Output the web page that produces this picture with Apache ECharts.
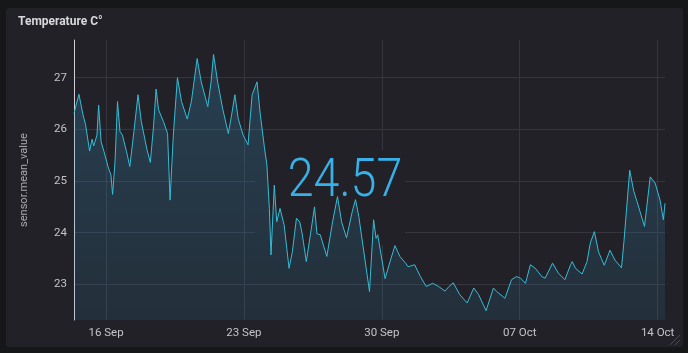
<!DOCTYPE html>
<html><head><meta charset="utf-8">
<script src="https://cdn.jsdelivr.net/npm/echarts@6/dist/echarts.min.js"></script>
<style>html,body{margin:0;padding:0;background:#161719;}#c{width:688px;height:353px;}</style>
</head><body><div id="c"></div>
<script>
const YEAR = 2019;
const title = 'Temperature C°';
const yName = 'sensor.mean_value';
const xTickLabels = ['16 Sep', '23 Sep', '30 Sep', '07 Oct', '14 Oct'];
const times = [
'09-14 09:00','09-14 15:00','09-14 20:00','09-14 23:00','09-15 04:00','09-15 07:00','09-15 09:00','09-15 13:00','09-15 15:00','09-15 18:00',
'09-15 21:00','09-16 03:00','09-16 06:00','09-16 08:00','09-16 11:00','09-16 14:00','09-16 17:00','09-16 20:00','09-17 01:00','09-17 05:00',
'09-17 10:00','09-17 15:00','09-17 19:00','09-18 00:00','09-18 02:00','09-18 06:00','09-18 10:00','09-18 13:00','09-18 16:00','09-18 22:00',
'09-19 03:00','09-19 06:00','09-19 10:00','09-19 15:00','09-19 20:00','09-20 03:00','09-20 08:00','09-20 15:00','09-20 20:00','09-21 04:00',
'09-21 08:00','09-21 11:00','09-21 16:00','09-21 22:00','09-22 05:00','09-22 09:00','09-22 13:00','09-22 17:00','09-22 23:00','09-23 05:00',
'09-23 10:00','09-23 16:00','09-23 20:00','09-24 01:00','09-24 04:00','09-24 07:00','09-24 09:00','09-24 13:00','09-24 16:00','09-24 20:00',
'09-25 01:00','09-25 07:00','09-25 11:00','09-25 16:00','09-25 20:00','09-25 23:00','09-26 04:00','09-26 09:00','09-26 14:00','09-26 17:00',
'09-26 21:00','09-27 05:00','09-27 12:00','09-27 18:00','09-27 23:00','09-28 05:00','09-28 12:00','09-28 16:00','09-28 20:00','09-29 09:00',
'09-29 14:00','09-29 17:00','09-29 19:00','09-30 04:00','09-30 10:00','09-30 16:00','09-30 22:00','10-01 05:00','10-01 08:00','10-01 16:00',
'10-01 23:00','10-02 06:00','10-02 14:00','10-02 21:00','10-03 05:00','10-03 10:00','10-03 15:00','10-03 23:00','10-04 08:00','10-04 16:00',
'10-04 22:00','10-05 07:00','10-05 16:00','10-05 20:00','10-06 06:00','10-06 14:00','10-06 20:00','10-07 01:00','10-07 07:00','10-07 13:00',
'10-07 19:00','10-08 03:00','10-08 07:00','10-08 16:00','10-08 23:00','10-09 07:00','10-09 14:00','10-09 16:00','10-09 20:00','10-10 04:00',
'10-10 10:00','10-10 14:00','10-10 19:00','10-11 00:00','10-11 07:00','10-11 14:00','10-11 20:00','10-12 04:00','10-12 07:00','10-12 14:00',
'10-12 19:00','10-12 23:00','10-13 08:00','10-13 15:00','10-13 21:00','10-14 03:00','10-14 07:00','10-14 09:00'
];
const values = [
26.31,26.68,26.28,26.10,25.58,25.81,25.68,25.89,26.47,25.76,
25.60,25.25,25.12,24.74,25.38,26.54,25.96,25.89,25.57,25.28,
25.96,26.67,26.15,25.76,25.60,25.36,26.08,26.78,26.38,26.15,
25.92,24.63,25.89,27.00,26.54,26.20,26.54,27.37,26.92,26.44,
26.92,27.45,26.92,26.41,25.92,26.28,26.67,26.21,25.89,25.70,
26.67,26.92,26.28,25.65,25.31,24.47,23.57,24.92,24.21,24.47,
24.15,23.31,23.63,24.28,24.21,23.98,23.44,23.96,24.50,23.98,
23.96,23.54,24.21,24.70,24.21,23.90,24.41,24.64,24.31,22.86,
24.25,23.89,23.96,23.11,23.44,23.75,23.54,23.41,23.34,23.38,
23.15,22.96,23.02,22.96,22.87,22.96,23.03,22.80,22.64,22.93,
22.80,22.49,22.93,22.86,22.73,23.09,23.15,23.12,23.02,23.38,
23.31,23.15,23.12,23.41,23.22,23.09,23.38,23.44,23.31,23.20,
23.44,23.80,24.02,23.63,23.37,23.66,23.47,23.32,23.83,25.21,
24.80,24.60,24.12,25.08,24.96,24.63,24.25,24.57
];

const DAY = 86400000;
const ORIGIN = Date.UTC(YEAR, 8, 16);
function toDays(s) {
  const m = s.match(/(\d+)-(\d+) (\d+):(\d+)/);
  return (Date.UTC(YEAR, +m[1] - 1, +m[2], +m[3], +m[4]) - ORIGIN) / DAY;
}
const xs = times.map(toDays);
const data = xs.map((x, i) => [x, values[i]]);
const PANEL = '#212127';
const chart = echarts.init(document.getElementById('c'));
chart.setOption({
  backgroundColor: '#161719',
  animation: false,
  textStyle: { fontFamily: 'Roboto' },
  grid: { left: 74, right: 23, top: 40, bottom: 33 },
  xAxis: {
    type: 'value',
    min: xs[0], max: xs[xs.length - 1],
    minInterval: 7, maxInterval: 7,
    axisLine: { show: false, onZero: false },
    axisTick: { show: false },
    axisLabel: {
      color: '#c4c4c8', fontSize: 11.5, margin: 7,
      showMinLabel: false, showMaxLabel: false,
      formatter: v => xTickLabels[Math.round(v / 7)] || ''
    },
    splitLine: { show: true, showMinLine: false, showMaxLine: false, lineStyle: { color: '#35353d', width: 1 } }
  },
  yAxis: {
    type: 'value',
    min: 22.31, max: 27.73,
    minInterval: 1, maxInterval: 1,
    name: yName, nameLocation: 'middle', nameGap: 44,
    nameTextStyle: { color: '#a9a9b0', fontSize: 11 },
    axisLine: { show: true, onZero: false, lineStyle: { color: '#cfcfd4', width: 1 } },
    axisTick: { show: false },
    axisLabel: { color: '#c4c4c8', fontSize: 11.5, margin: 7, showMinLabel: false, showMaxLabel: false },
    splitLine: { show: true, showMinLine: false, showMaxLine: false, lineStyle: { color: '#35353d', width: 1 } }
  },
  graphic: [
    { type: 'rect', z: -10, shape: { x: 6, y: 8, width: 677, height: 339, r: 3 }, style: { fill: PANEL } },
    { type: 'rect', z: 1, shape: { x: 255, y: 150, width: 150, height: 95 }, style: { fill: PANEL } },
    { type: 'text', z: 5, x: 18, y: 16, style: { text: title, fill: '#d8d9da', font: 'bold 12px Roboto' } },
    { type: 'text', z: 5, x: 345, y: 183, scaleX: 0.88, style: { text: values[values.length - 1].toFixed(2), fill: '#38b0e8', font: '300 53px Roboto', align: 'center', verticalAlign: 'middle' } },
    { type: 'line', z: 5, shape: { x1: 670, y1: 345, x2: 680, y2: 335 }, style: { stroke: '#4a4a52', lineWidth: 1 } },
    { type: 'line', z: 5, shape: { x1: 675, y1: 345, x2: 680, y2: 340 }, style: { stroke: '#4a4a52', lineWidth: 1 } }
  ],
  series: [{
    type: 'line',
    data: data,
    symbol: 'none',
    smooth: false,
    lineStyle: { color: '#35bcd6', width: 1 },
    areaStyle: {
      color: new echarts.graphic.LinearGradient(0, 0, 0, 1, [
        { offset: 0, color: 'rgba(56,150,200,0.38)' },
        { offset: 1, color: 'rgba(56,150,200,0.17)' }
      ])
    }
  }]
});
</script></body></html>
